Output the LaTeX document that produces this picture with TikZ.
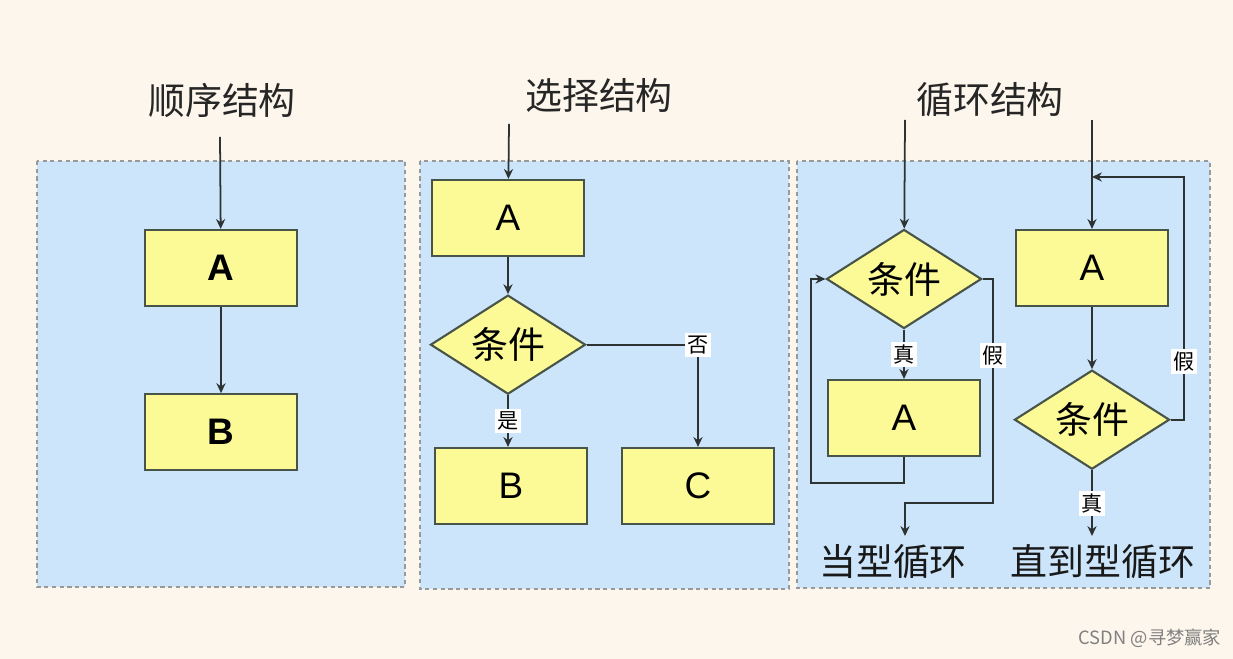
\documentclass[tikz,border=0pt]{standalone}
\usepackage{fontspec}
\setmainfont{Liberation Sans}
\newfontfamily\cjk{Noto Sans CJK SC}
\usepackage{tikz}
\usetikzlibrary{positioning, arrows.meta, shapes.geometric}

\definecolor{bgcream}{RGB}{253,246,236}
\definecolor{panelblue}{RGB}{204,229,250}
\definecolor{boxyellow}{RGB}{252,250,150}
\definecolor{boxborder}{RGB}{72,84,72}
\definecolor{linecol}{RGB}{45,50,50}

\begin{document}
\begin{tikzpicture}[
    x=0.01cm, y=-0.01cm,
    panel_style/.style={draw=gray!80, fill=panelblue, line width=0.6pt, dash pattern=on 1.2pt off 1pt},
    title_style/.style={font=\cjk\fontsize{10.5}{12}\selectfont, text=black!85},
    text_style/.style={font=\cjk\fontsize{10.5}{12}\selectfont, text=black!90},
    block/.style={rectangle, draw=boxborder, fill=boxyellow, line width=0.6pt, minimum width=1.52cm, minimum height=0.76cm, inner sep=0pt, font=\fontsize{10.5}{12}\selectfont},
    blockb/.style={block, font=\fontsize{10.5}{12}\selectfont\bfseries},
    cond/.style={diamond, draw=boxborder, fill=boxyellow, line width=0.6pt, aspect=1.56, minimum width=1.55cm, minimum height=0.99cm, inner sep=0pt, font=\cjk\fontsize{10.5}{12}\selectfont},
    arrow_line/.style={-{Stealth[length=2.8pt, width=2.6pt]}, draw=linecol, line width=0.5pt},
    label_style/.style={fill=white, inner sep=0.8pt, font=\cjk\fontsize{6}{7}\selectfont}
]

\useasboundingbox[fill=bgcream] (0,0) rectangle (1233,659);

% panels
\draw[panel_style] (37,161) rectangle (405,587);
\draw[panel_style] (420,161) rectangle (789,589);
\draw[panel_style] (797,161) rectangle (1210,588);

\node[title_style] (t1) at (222,100) {顺序结构};
\node[title_style] (t2) at (599,96) {选择结构};
\node[title_style] (t3) at (990,100) {循环结构};

% sequence
\coordinate (sin) at (220,137);
\node[blockb] (sa) at (221,268) {A};
\node[blockb, below=0.86cm of sa] (sb) {B};

\draw[arrow_line] (sin) -- (sa);
\draw[arrow_line] (sa) -- (sb);

% selection
\coordinate (xin) at (509,124);
\node[block] (xa) at (508,218) {A};
\node[cond, below=0.37cm of xa] (xc) {条件};
\node[block] (xb) at (511,486) {B};
\node[block] (xcc) at (698,486) {C};

\draw[arrow_line] (xin) -- (xa);
\draw[arrow_line] (xa) -- (xc);
\draw[arrow_line] (xc.south) -- node[label_style] {是} (xc.south |- xb.north);
\draw[arrow_line] (xc.east) -| node[label_style, pos=0.5] {否} (xcc);

% while loop
\coordinate (win) at (905,120);
\node[cond] (wc) at (904,279) {条件};
\node[block] (wa) at (904,418) {A};
\coordinate (wloop) at (811,483);
\coordinate (wturn) at (993,503);
\coordinate (wout) at (905,536);
\node[text_style] (wt) at (893,562) {当型循环};

\draw[arrow_line] (win) -- (wc);
\draw[arrow_line] (wc) -- node[label_style] {真} (wa);
\draw[arrow_line] (wa.south) |- (wloop) |- (wc.west);
\draw[arrow_line] (wc.east) -| node[label_style, pos=0.67] {假} (wturn) -| (wout);

% do-until loop
\coordinate (uin) at (1092,120);
\node[block] (ua) at (1092,268) {A};
\node[cond, below=0.62cm of ua] (uc) {条件};
\coordinate (uturn) at (1184,177);
\coordinate (uout) at (1092,536);
\node[text_style] (ut) at (1103,562) {直到型循环};

\draw[arrow_line] (uin) -- (ua);
\draw[arrow_line] (ua) -- (uc);
\draw[arrow_line] (uc.east) -| node[label_style, pos=0.62] {假} (uturn) -- (uturn -| ua.north);
\draw[arrow_line] (uc) -- node[label_style] {真} (uout);

\node[font=\cjk\fontsize{5.2}{6}\selectfont, text=gray] (wm) at (1150,638) {CSDN @寻梦赢家};

\end{tikzpicture}
\end{document}
